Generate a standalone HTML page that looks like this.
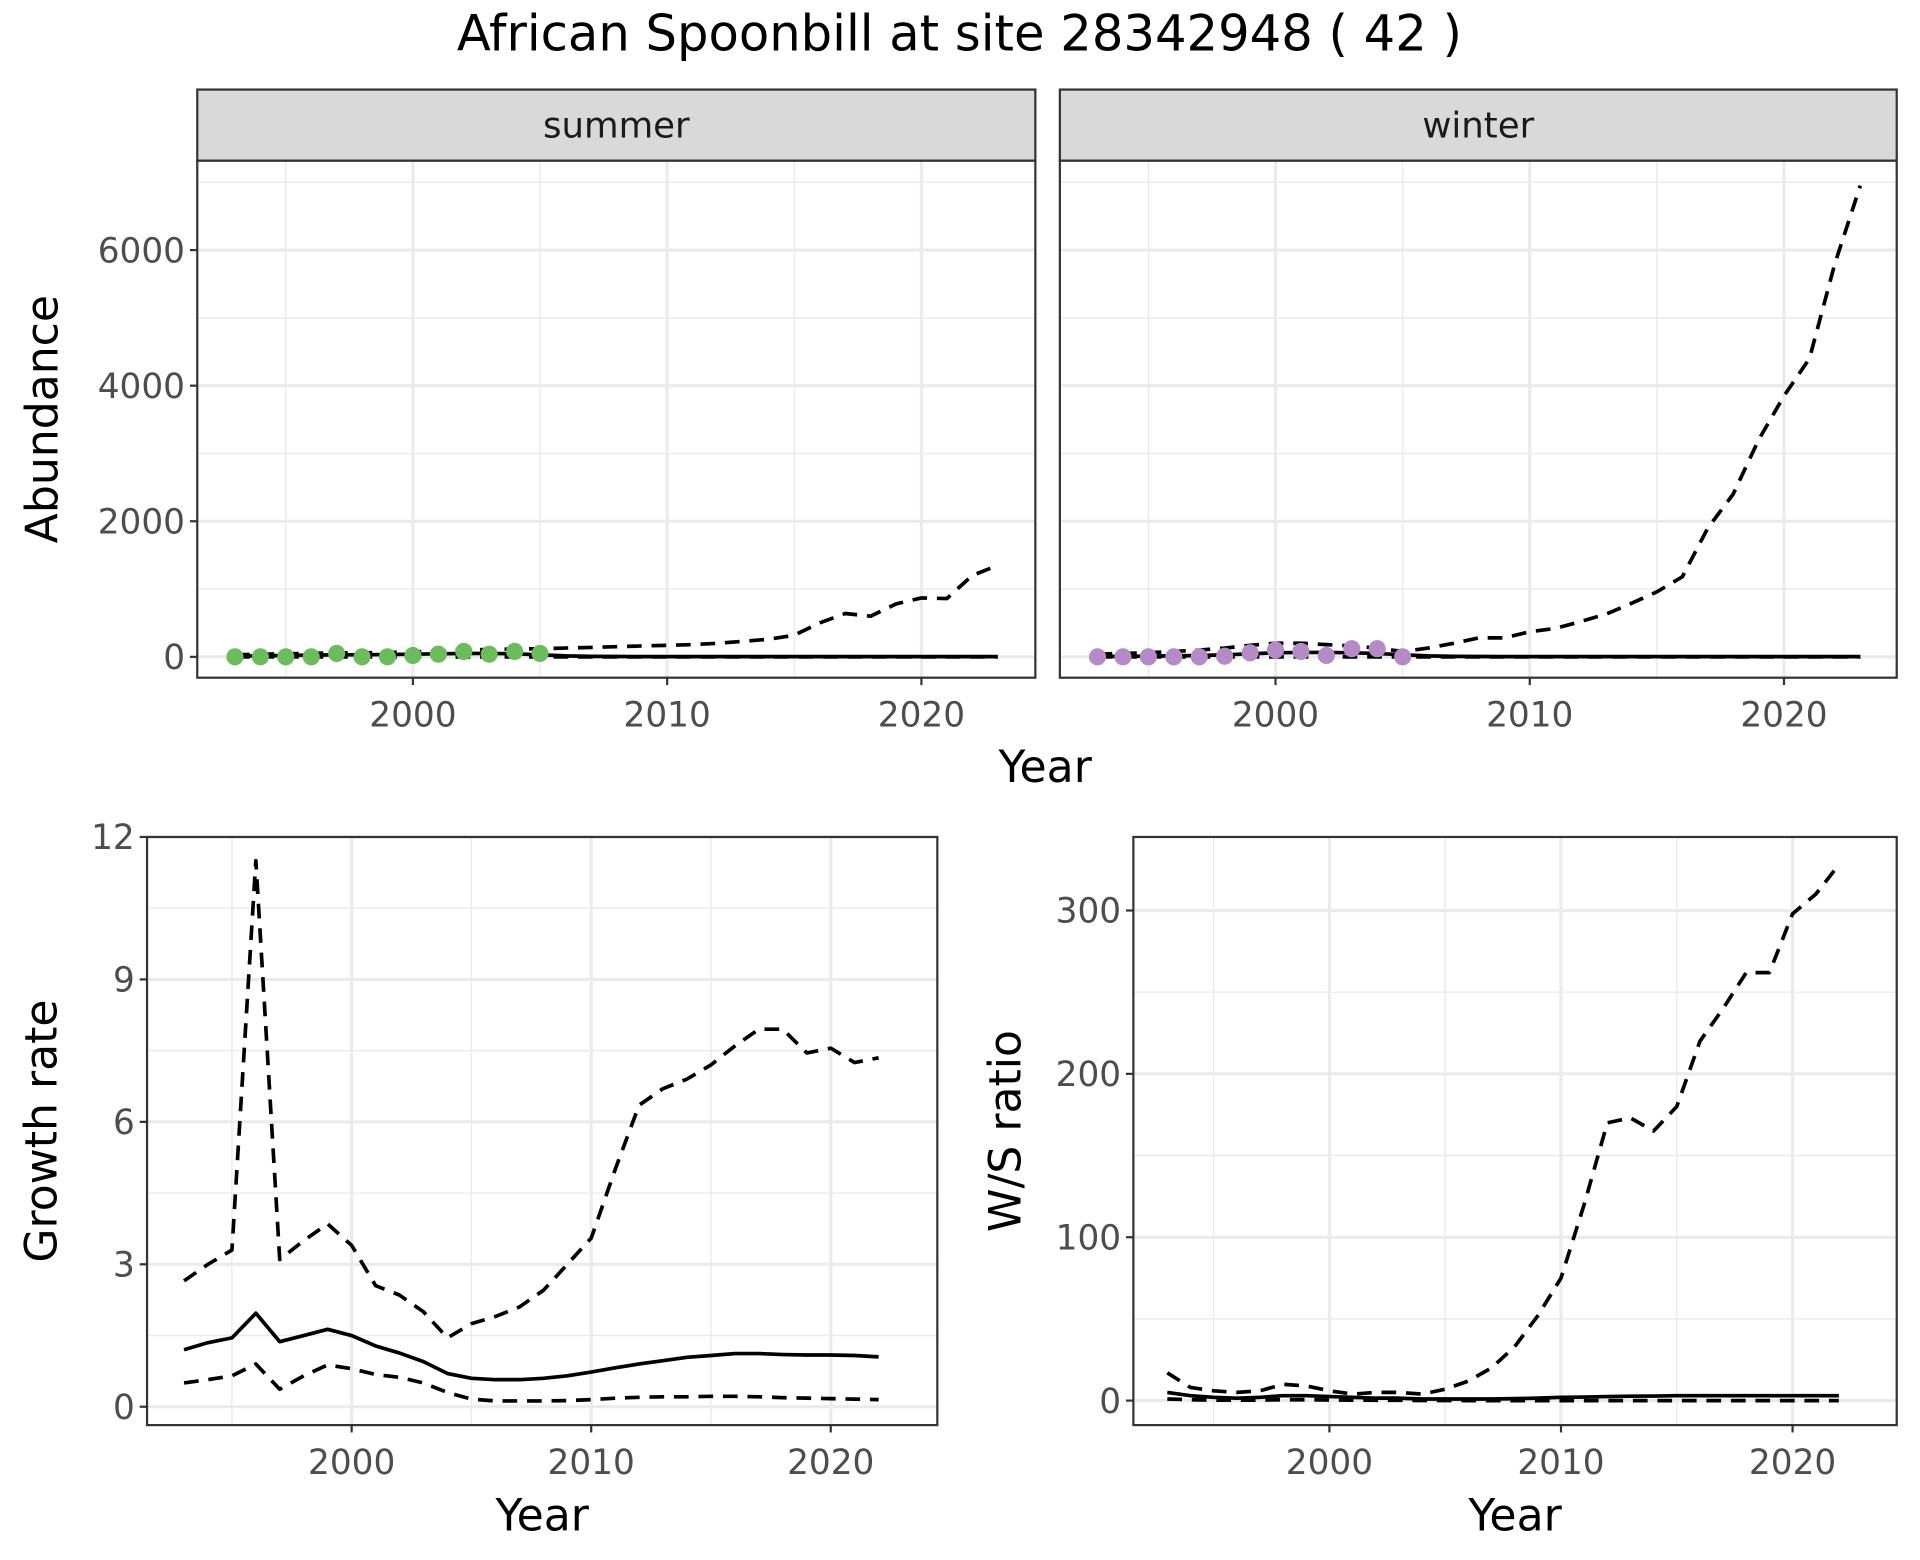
<!DOCTYPE html>
<html><head><meta charset="utf-8">
<style>
html,body{margin:0;padding:0;background:#fff;}
svg{display:block;font-family:"DejaVu Sans","Liberation Sans",sans-serif;}
</style></head>
<body>
<svg id="chart" xmlns="http://www.w3.org/2000/svg" width="1920" height="1560" viewBox="0 0 1567 1273">
<rect width="1567" height="1273" fill="#fff"/>
<text x="783" y="41" text-anchor="middle" font-size="40.5" fill="#000">African Spoonbill at site 28342948 ( 42 )</text>
</svg>
<script>
// ---- data ----
const years = [1993,1994,1995,1996,1997,1998,1999,2000,2001,2002,2003,2004,2005,2006,2007,2008,2009,2010,2011,2012,2013,2014,2015,2016,2017,2018,2019,2020,2021,2022,2023];
const obsYears = [1993,1994,1995,1996,1997,1998,1999,2000,2001,2002,2003,2004,2005];
const summerObs = [0,0,0,0,50,0,0,20,40,80,40,80,50];
const winterObs = [0,0,0,0,0,10,60,100,80,20,120,120,0];
const summerFit = [10,15,20,25,30,30,35,40,45,50,50,45,30,15,8,5,4,3,3,3,3,3,3,3,3,3,3,3,3,3,3];
const summerUpper = [30,40,45,50,60,60,65,75,85,95,110,115,120,130,140,150,160,170,180,200,230,260,320,500,640,600,780,870,860,1200,1350];
const summerLower = [0,0,0,0,0,0,0,0,0,0,0,0,0,0,0,0,0,0,0,0,0,0,0,0,0,0,0,0,0,0,0];
const winterFit = [5,8,10,15,20,30,45,60,65,65,60,50,30,15,8,5,4,3,3,3,3,3,3,3,3,3,3,3,3,3,3];
const winterUpper = [40,50,60,80,100,130,170,200,200,180,160,130,80,130,200,280,280,370,420,520,630,790,960,1180,1900,2400,3200,3850,4400,5800,6950];
const winterLower = [0,0,0,0,0,0,0,0,0,0,0,0,0,0,0,0,0,0,0,0,0,0,0,0,0,0,0,0,0,0,0];
const abundTicks = [0,2000,4000,6000];

const gYears = [1993,1994,1995,1996,1997,1998,1999,2000,2001,2002,2003,2004,2005,2006,2007,2008,2009,2010,2011,2012,2013,2014,2015,2016,2017,2018,2019,2020,2021,2022];
const growthFit = [1.2,1.35,1.45,1.97,1.37,1.5,1.63,1.5,1.28,1.13,0.95,0.7,0.6,0.57,0.57,0.6,0.65,0.73,0.82,0.9,0.97,1.04,1.08,1.12,1.12,1.1,1.09,1.09,1.08,1.05];
const growthUpper = [2.65,3.0,3.3,11.5,3.1,3.5,3.85,3.4,2.55,2.35,2.0,1.45,1.75,1.9,2.1,2.45,3.0,3.55,5.0,6.35,6.7,6.9,7.2,7.6,7.95,7.95,7.45,7.55,7.25,7.35];
const growthLower = [0.5,0.57,0.65,0.9,0.37,0.65,0.88,0.8,0.68,0.62,0.5,0.3,0.16,0.12,0.12,0.12,0.13,0.15,0.18,0.2,0.21,0.21,0.22,0.22,0.21,0.19,0.18,0.17,0.16,0.15];
const growthTicks = [0,3,6,9,12];

const ratioFit = [5,3,2,1.5,2,3,3,2.5,2,1.5,1.5,1,1,1,1,1.2,1.5,2,2.2,2.5,2.7,2.8,3,3,3,3,3,3,3,3];
const ratioUpper = [17,8,6,5,6,10,9,6,4,5,5,4,7,12,20,33,52,75,120,170,173,165,180,220,240,262,262,298,310,328];
const ratioLower = [1,0.5,0.3,0.2,0.3,0.5,0.5,0.4,0.3,0.2,0.2,0.1,0.1,0,0,0,0,0,0,0,0,0,0,0,0,0,0,0,0,0];
const ratioTicks = [0,100,200,300];
const yearTicks = [2000,2010,2020];

const NS='http://www.w3.org/2000/svg';
const svg=document.getElementById('chart');
function mk(tag,attrs,parent){const e=document.createElementNS(NS,tag);for(const k in attrs)e.setAttribute(k,attrs[k]);(parent||svg).appendChild(e);return e;}
function lin(d0,d1,r0,r1){return v=>r0+(v-d0)/(d1-d0)*(r1-r0);}

function panel(o){
  const g=mk('g',{});
  
  
  const X=lin(2000,2020,o.x2000,o.x2020), Y=lin(0,o.yRefV,o.y0,o.yRefP);
  o.minorY.forEach(v=>{const y=Y(v);if(y>o.top&&y<o.bottom)mk('line',{x1:o.left,x2:o.right,y1:y,y2:y,stroke:'#ebebeb','stroke-width':1.2},g);});
  [1995,2005,2015].forEach(v=>{const x=X(v);mk('line',{x1:x,x2:x,y1:o.top,y2:o.bottom,stroke:'#ebebeb','stroke-width':1.2},g);});
  o.ticks.forEach(v=>{const y=Y(v);const l=mk('line',{x1:o.left,x2:o.right,y1:y,y2:y,stroke:'#ebebeb','stroke-width':2.6},g);});
  yearTicks.forEach(v=>{const x=X(v);mk('line',{x1:x,x2:x,y1:o.top,y2:o.bottom,stroke:'#ebebeb','stroke-width':2.6},g);});
  o.series.forEach(s=>{
    const d=s.ys.map((v,i)=>(i?'L':'M')+X(s.xs[i]).toFixed(1)+','+Y(v).toFixed(1)).join('');
    const p=mk('path',{d:d,fill:'none',stroke:'#000','stroke-width':3,'stroke-dasharray':s.dash?'12,8':'none','stroke-linejoin':'round'},g);
    
    
  });
  if(o.points){o.points.ys.forEach((v,i)=>{
    const c=mk('circle',{cx:X(o.points.xs[i]),cy:Y(v),r:7,fill:o.points.color},g);
    
    
  });}
  mk('rect',{x:o.left,y:o.top,width:o.right-o.left,height:o.bottom-o.top,fill:'none',stroke:'#333','stroke-width':1.8},g);
  if(o.strip){
    mk('rect',{x:o.left,y:o.top-58,width:o.right-o.left,height:58,fill:'#d9d9d9',stroke:'#333','stroke-width':1.8},g);
    const st=mk('text',{x:(o.left+o.right)/2,y:o.top-19,'text-anchor':'middle','font-size':29,fill:'#1a1a1a'},g);
    st.textContent=o.strip;
    
    
  }
  yearTicks.forEach(v=>{const x=X(v);mk('line',{x1:x,x2:x,y1:o.bottom,y2:o.bottom+6,stroke:'#333','stroke-width':1.8},g);
    const t=mk('text',{x:x,y:o.bottom+40,'text-anchor':'middle','font-size':28,fill:'#4d4d4d'},g);t.textContent=v;
    
    });
  if(o.showY){o.ticks.forEach(v=>{const y=Y(v);mk('line',{x1:o.left-6,x2:o.left,y1:y,y2:y,stroke:'#333','stroke-width':1.8},g);
    const t=mk('text',{x:o.left-10,y:y+10,'text-anchor':'end','font-size':28,fill:'#4d4d4d'},g);t.textContent=v;
    
    });}
  if(o.ytitle){const cy=(o.top+o.bottom)/2;const t=mk('text',{x:o.ytx,y:cy,'text-anchor':'middle','font-size':36,fill:'#000',transform:`rotate(-90 ${o.ytx} ${cy})`},g);t.textContent=o.ytitle;
    
    }
  if(o.xtitle){const t=mk('text',{x:(o.left+o.right)/2,y:o.bottom+86,'text-anchor':'middle','font-size':36,fill:'#000'},g);t.textContent='Year';
    
    }
}

panel({name:'summer-panel',left:161,right:845,top:131,bottom:553,x2000:337,x2020:752,y0:536,yRefV:6000,yRefP:204,ticks:abundTicks,minorY:[1000,3000,5000,7000],showY:true,strip:'summer',ytitle:'Abundance',ytx:47,
  series:[{name:'summer-upper',xs:years,ys:summerUpper,dash:true},{name:'summer-lower',xs:years,ys:summerLower,dash:true},{name:'summer-fit',xs:years,ys:summerFit}],
  points:{xs:obsYears,ys:summerObs,color:'#6bbd5b'}});
panel({name:'winter-panel',left:865,right:1548,top:131,bottom:553,x2000:1041,x2020:1456,y0:536,yRefV:6000,yRefP:204,ticks:abundTicks,minorY:[1000,3000,5000,7000],showY:false,strip:'winter',
  series:[{name:'winter-upper',xs:years,ys:winterUpper,dash:true},{name:'winter-lower',xs:years,ys:winterLower,dash:true},{name:'winter-fit',xs:years,ys:winterFit}],
  points:{xs:obsYears,ys:winterObs,color:'#b48ac7'}});
const yt=mk('text',{x:853,y:638,'text-anchor':'middle','font-size':36,fill:'#000'});yt.textContent='Year';


panel({name:'growth-panel',left:120,right:765,top:683,bottom:1163,x2000:287,x2020:678,y0:1148,yRefV:12,yRefP:683,ticks:growthTicks,minorY:[1.5,4.5,7.5,10.5],showY:true,ytitle:'Growth rate',ytx:46,xtitle:true,
  series:[{name:'growth-upper',xs:gYears,ys:growthUpper,dash:true},{name:'growth-lower',xs:gYears,ys:growthLower,dash:true},{name:'growth-fit',xs:gYears,ys:growthFit}]});
panel({name:'ratio-panel',left:925,right:1548,top:683,bottom:1163,x2000:1085,x2020:1463,y0:1143,yRefV:300,yRefP:743,ticks:ratioTicks,minorY:[50,150,250],showY:true,ytitle:'W/S ratio',ytx:833,xtitle:true,
  series:[{name:'ratio-upper',xs:gYears,ys:ratioUpper,dash:true},{name:'ratio-lower',xs:gYears,ys:ratioLower,dash:true},{name:'ratio-fit',xs:gYears,ys:ratioFit}]});
</script>
</body></html>
